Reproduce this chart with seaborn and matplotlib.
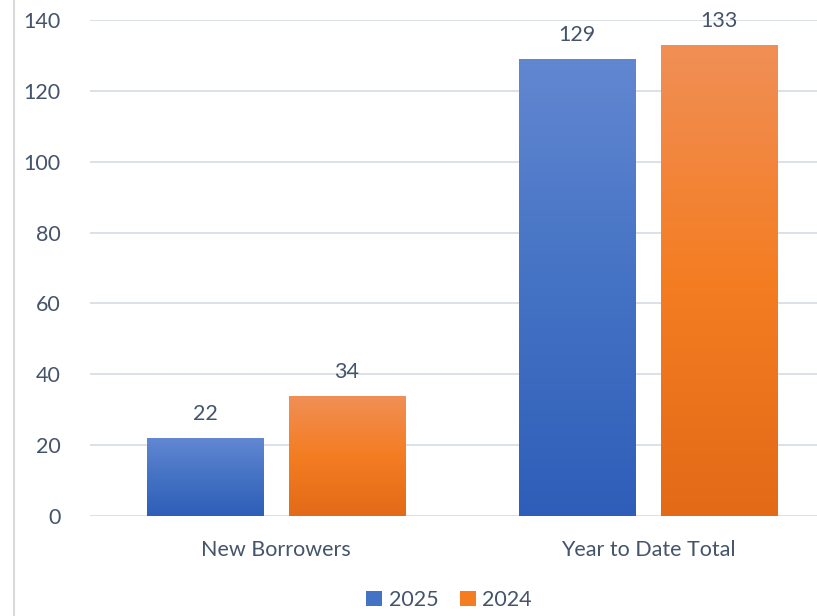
import numpy as np
import pandas as pd
import matplotlib
matplotlib.use("Agg")
import matplotlib.pyplot as plt
from matplotlib.colors import LinearSegmentedColormap
from matplotlib.lines import Line2D
from matplotlib.patches import Patch
import seaborn as sns

categories = ["New Borrowers", "Year to Date Total"]
years = ["2025", "2024"]
values_2025 = [22, 129]
values_2024 = [34, 133]

df = pd.DataFrame({
    "category": categories * 2,
    "year": [years[0]] * 2 + [years[1]] * 2,
    "value": values_2025 + values_2024,
})

# gradient stops (top, middle, bottom) for each series
grad = {
    "2025": ["#6287D1", "#4472C4", "#2E5EB9"],
    "2024": ["#F08F56", "#F47D22", "#E36A17"],
}
mid = {k: v[1] for k, v in grad.items()}
text_col = "#44546A"
grid_col = "#D9DEE5"
fs = 15.5

sns.set_style("white")
plt.rcParams["font.family"] = ["Lato", "DejaVu Sans"]

fig = plt.figure(figsize=(8.17, 6.16), dpi=100)
ax = fig.add_axes([90 / 817, 1 - 516 / 616, 744 / 817, 496 / 616])

sns.barplot(data=df, x="category", y="value", hue="year", palette=mid,
            width=0.764, gap=0.183, ax=ax, legend=False, zorder=3)

ax.set_yticks(range(0, 141, 20))
ax.yaxis.grid(True, color=grid_col, linewidth=1.3, zorder=0)
ax.set_axisbelow(True)
for s in ax.spines.values():
    s.set_visible(False)
ax.tick_params(axis="both", length=0, labelsize=fs, colors=text_col)
ax.tick_params(axis="y", pad=21)
ax.tick_params(axis="x", pad=17)
ax.set_xlabel("")
ax.set_ylabel("")

# gradient fills clipped to each bar
hue_of = [years[0]] * 2 + [years[1]] * 2
for patch, yr in zip(ax.patches, hue_of):
    x0, y0 = patch.get_x(), patch.get_y()
    w, h = patch.get_width(), patch.get_height()
    cmap = LinearSegmentedColormap.from_list("g", grad[yr][::-1])
    img = ax.imshow(np.linspace(0, 1, 256).reshape(-1, 1), cmap=cmap,
                    extent=[x0, x0 + w, y0, y0 + h], origin="lower",
                    aspect="auto", zorder=3, interpolation="bicubic")
    img.set_clip_path(patch)
    patch.set_facecolor("none")
    patch.set_edgecolor("none")
    ax.annotate(f"{int(h)}", (x0 + w / 2, y0 + h), xytext=(0, 10),
                textcoords="offset points", ha="center", va="bottom",
                fontsize=fs, color=text_col)

ax.set_xlim(-0.5, 1.5)
ax.set_ylim(0, 140)

# left chart-area border
fig.add_artist(Line2D([14 / 817, 14 / 817], [0, 1], color="#D9D9D9",
                      linewidth=1.5, transform=fig.transFigure))

handles = [Patch(facecolor=mid[y], edgecolor="none", label=y) for y in years]
fig.legend(handles=handles, loc="center", bbox_to_anchor=(449 / 817, 1 - 600 / 616),
           ncol=2, frameon=False, fontsize=fs, handlelength=0.75, handleheight=0.75,
           handletextpad=0.3, columnspacing=1.0, labelcolor=text_col)

fig.savefig("out.png", dpi=100)
